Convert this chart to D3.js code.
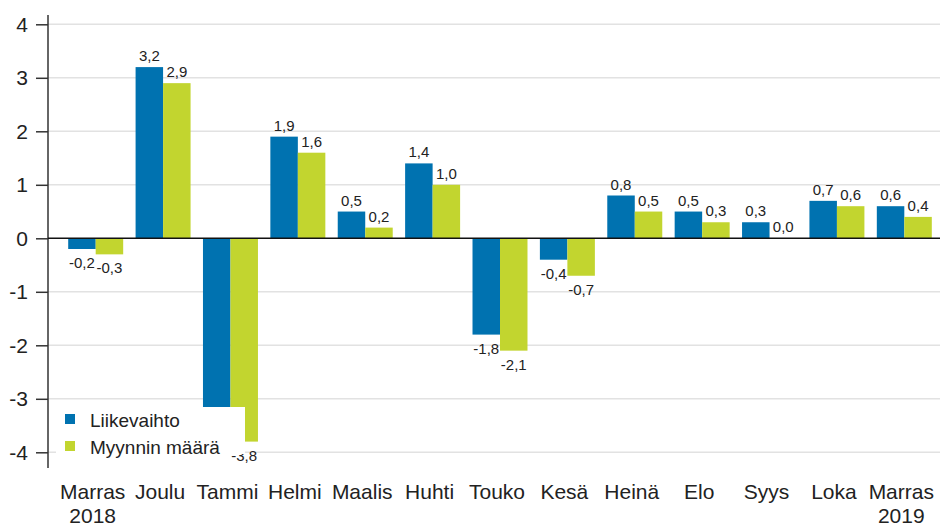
<!DOCTYPE html>
<html>
<head>
<meta charset="utf-8">
<script src="https://cdn.jsdelivr.net/npm/d3@7"></script>
<style>
  body { margin: 0; background: #fff; }
  text { font-family: "Liberation Sans", Arial, sans-serif; fill: #222; }
</style>
</head>
<body>
<div id="chart"></div>
<script>
// months, first and last with a year line
var months = ["Marras|2018", "Joulu", "Tammi", "Helmi", "Maalis", "Huhti", "Touko", "Kesä", "Heinä", "Elo", "Syys", "Loka", "Marras|2019"];
var seriesNames = ["Liikevaihto", "Myynnin määrä"];
var liikevaihto = [-0.2, 3.2, -3.2, 1.9, 0.5, 1.4, -1.8, -0.4, 0.8, 0.5, 0.3, 0.7, 0.6];
var myynninMaara = [-0.3, 2.9, -3.8, 1.6, 0.2, 1.0, -2.1, -0.7, 0.5, 0.3, 0.0, 0.6, 0.4];
var yTicks = [-4, -3, -2, -1, 0, 1, 2, 3, 4];
var colors = ["#0072b0", "#c2d52f"];

var width = 944, height = 526;
var svg = d3.select("#chart").append("svg")
    .attr("width", width)
    .attr("height", height);

var y = d3.scaleLinear().domain([-4, 4]).range([452.3, 24.3]);
var x0 = d3.scaleBand().domain(months).range([62, 938]).padding(0);
var pad = x0.bandwidth() * 0.092;
var x1 = d3.scaleBand().domain(seriesNames).range([pad, x0.bandwidth() - pad]);

// grid
svg.append("g").selectAll("line")
    .data(yTicks.filter(function(d){ return d !== 0; }))
    .enter().append("line")
    .attr("x1", 48).attr("x2", 940)
    .attr("y1", function(d){ return y(d); })
    .attr("y2", function(d){ return y(d); })
    .attr("stroke", "#e2e2e2")
    .attr("stroke-width", 1.5);

// y axis
var yAxis = d3.axisLeft(y).tickValues(yTicks).tickSize(12).tickPadding(8)
    .tickFormat(function(d){ return d < 0 ? "-" + Math.abs(d) : d; });
var ya = svg.append("g")
    .attr("transform", "translate(48,0)")
    .call(yAxis);
ya.select(".domain").remove();
ya.selectAll(".tick line").attr("stroke", "#333").attr("stroke-width", 1.5);
ya.selectAll(".tick text").style("font-size", "21px").attr("fill", "#222");
svg.append("line")
    .attr("x1", 48).attr("x2", 48)
    .attr("y1", 15).attr("y2", 468)
    .attr("stroke", "#333").attr("stroke-width", 1.5);

// bars
var rows = months.map(function(m, i){
    return { month: m, values: [
        { name: seriesNames[0], value: liikevaihto[i], color: colors[0] },
        { name: seriesNames[1], value: myynninMaara[i], color: colors[1] }
    ]};
});

var groups = svg.append("g").selectAll("g")
    .data(rows)
    .enter().append("g")
    .attr("transform", function(d){ return "translate(" + x0(d.month) + ",0)"; });

groups.selectAll("rect")
    .data(function(d){ return d.values; })
    .enter().append("rect")
    .attr("x", function(d){ return x1(d.name); })
    .attr("width", x1.bandwidth())
    .attr("y", function(d){ return y(Math.max(0, d.value)); })
    .attr("height", function(d){ return Math.abs(y(d.value) - y(0)); })
    .attr("fill", function(d){ return d.color; });

groups.selectAll("text")
    .data(function(d){ return d.values; })
    .enter().append("text")
    .attr("x", function(d){ return x1(d.name) + x1.bandwidth() / 2; })
    .attr("y", function(d){ return d.value >= 0 ? y(d.value) - 6 : y(d.value) + 19; })
    .attr("text-anchor", "middle")
    .style("font-size", "15px")
    .text(function(d){ return d.value.toFixed(1).replace(".", ","); });

// zero line
svg.append("line")
    .attr("x1", 48).attr("x2", 940)
    .attr("y1", y(0)).attr("y2", y(0))
    .attr("stroke", "#111").attr("stroke-width", 1.5);

// x labels
var xl = svg.append("g").selectAll("text")
    .data(months)
    .enter().append("text")
    .attr("x", function(d){ return x0(d) + x0.bandwidth() / 2 - 3; })
    .attr("y", 499)
    .attr("text-anchor", "middle")
    .style("font-size", "21px");
xl.each(function(d){
    var parts = d.split("|");
    var t = d3.select(this);
    parts.forEach(function(p, i){
        t.append("tspan")
            .attr("x", t.attr("x"))
            .attr("dy", i === 0 ? 0 : 24)
            .text(p);
    });
});

// legend
var legend = svg.append("g");
legend.append("rect")
    .attr("x", 56).attr("y", 407)
    .attr("width", 189).attr("height", 47)
    .attr("fill", "#fff");
legend.selectAll("g")
    .data(seriesNames)
    .enter().append("g")
    .attr("transform", function(d, i){ return "translate(65," + (414 + i * 27) + ")"; })
    .each(function(d, i){
        var g = d3.select(this);
        g.append("rect").attr("width", 10).attr("height", 10).attr("fill", colors[i]);
        g.append("text").attr("x", 25).attr("y", 13).style("font-size", "19px").text(d);
    });
</script>
</body>
</html>
